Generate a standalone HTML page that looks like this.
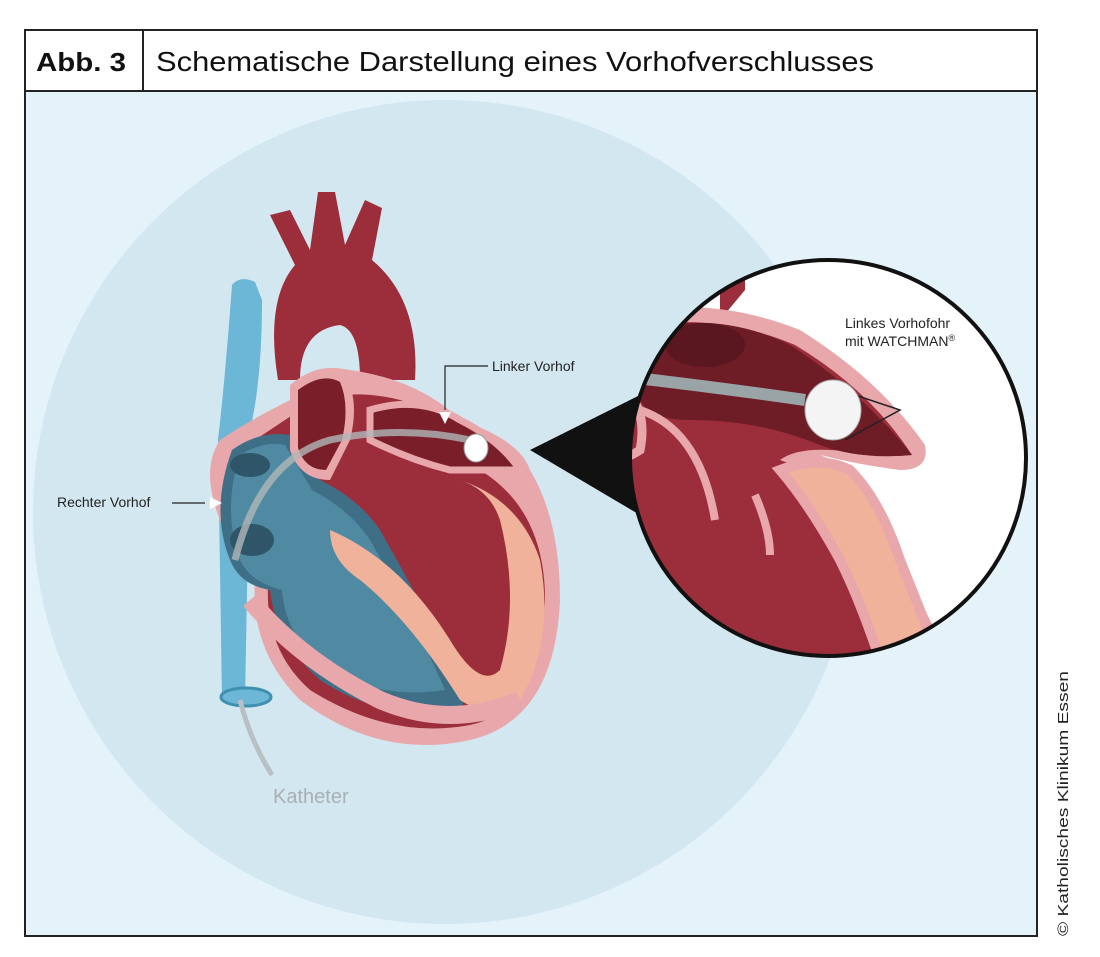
<!DOCTYPE html>
<html><head><meta charset="utf-8"><style>
html,body{margin:0;padding:0;background:#fff;}
body{width:1100px;height:957px;position:relative;overflow:hidden;font-family:"Liberation Sans",sans-serif;}
</style></head><body>
<svg width="1100" height="957" viewBox="0 0 1100 957" xmlns="http://www.w3.org/2000/svg" style="position:absolute;left:0;top:0">
<defs>
<clipPath id="pane"><rect x="25" y="91" width="1012" height="845"/></clipPath>
<clipPath id="zc"><circle cx="828" cy="458" r="198"/></clipPath>
</defs>
<rect x="25" y="91" width="1012" height="845" fill="#e4f2fa"/>
<g clip-path="url(#pane)">
<circle cx="445" cy="512" r="412" fill="#d3e7f1"/>
</g>
<!-- vena cava -->
<path d="M232 285 Q240 275 255 282 L262 300 Q262 380 250 430 L245 700 L222 700 L218 440 Q225 380 232 285Z" fill="#6cb6d6"/>
<ellipse cx="246" cy="697" rx="25" ry="9" fill="#6cb6d6" stroke="#3f8fb0" stroke-width="3"/>
<path d="M240 700 Q250 740 272 775" stroke="#b8c0c4" stroke-width="5" fill="none"/>
<!-- aorta / arch -->
<path d="M270 215 L290 210 L310 250 L318 192 L335 192 L345 245 L365 200 L382 208 L372 260 Q420 300 415 380 L360 380 Q360 330 340 325 Q300 330 300 380 L278 380 Q265 300 295 265 Z" fill="#9c2d3b"/>
<!-- main heart body -->
<path d="M290 400 Q300 360 350 370 Q420 380 460 420 Q520 440 530 470 Q560 520 560 600 Q555 720 470 740 Q380 760 300 700 Q250 650 255 580 Q230 560 220 520 Q200 470 220 440 Q250 420 290 400Z" fill="#e8a7ab"/>
<path d="M300 410 Q340 385 400 400 Q450 415 470 440 L515 460 Q500 475 480 470 Q545 510 545 600 Q540 710 470 725 Q390 740 310 690 Q265 650 268 585 Q240 560 232 520 Q225 470 240 450 Q270 430 300 410Z" fill="#9c2d3b"/>
<!-- right atrium/ventricle blue -->
<path d="M232 450 Q260 430 290 435 L320 480 Q360 500 380 530 Q420 600 460 680 Q470 705 455 712 Q380 720 320 680 Q275 640 270 590 Q240 585 230 560 Q210 510 232 450Z" fill="#3f6f86"/>
<path d="M240 455 Q265 440 285 445 L312 490 Q350 510 370 540 Q410 610 445 690 Q380 700 325 668 Q285 635 282 590 Q250 582 240 560 Q222 510 240 455Z" fill="#4f8aa2"/>
<ellipse cx="252" cy="540" rx="22" ry="16" fill="#2e5568"/>
<ellipse cx="250" cy="465" rx="20" ry="12" fill="#2e5568"/>
<!-- septum/left ventricle pink wall -->
<path d="M330 530 Q400 560 450 640 Q480 690 500 670 Q520 600 500 520 Q490 490 460 480 Q520 500 540 560 Q555 640 520 700 Q490 720 460 700 Q410 620 360 580 Q330 560 330 530Z" fill="#f0b29a"/>
<path d="M250 600 Q300 660 380 700 Q450 730 520 700" stroke="#e8a7ab" stroke-width="18" fill="none"/>
<!-- pulmonary -->
<path d="M290 385 Q320 360 345 375 Q360 400 350 440 L330 480 Q300 480 290 450Z" fill="#e8a7ab"/>
<path d="M298 390 Q322 372 340 382 Q350 405 342 440 L326 470 Q305 470 298 448Z" fill="#7a1f2a"/>
<!-- left atrium -->
<path d="M370 410 Q420 395 460 420 Q500 440 520 470 Q480 470 450 470 Q410 460 370 440Z" fill="#7a1f2a" stroke="#e8a7ab" stroke-width="7"/>
<!-- catheter in heart -->
<path d="M235 560 Q260 460 330 440 Q400 425 470 440" stroke="#b0b6b8" stroke-opacity="0.8" stroke-width="7" fill="none"/>
<ellipse cx="476" cy="448" rx="12" ry="14" fill="#fff" stroke="#999" stroke-width="1"/>
<!-- zoom triangle -->
<polygon points="530,450 640,395 640,515" fill="#111"/>
<!-- zoom circle -->
<circle cx="828" cy="458" r="198" fill="#fff"/>
<g clip-path="url(#zc)">
<path d="M720 240 L745 240 L745 290 L720 320Z" fill="#9c2d3b"/>
<path d="M600 320 Q700 290 800 330 Q880 380 925 445 Q930 470 900 470 Q860 465 820 455 Q860 470 880 520 Q920 600 950 660 L600 660Z" fill="#e8a7ab"/>
<path d="M600 335 Q700 305 795 345 Q870 390 912 455 Q880 458 850 452 Q800 445 780 460 Q840 480 870 540 Q900 600 930 660 L600 660Z" fill="#9c2d3b"/>
<path d="M640 330 Q720 310 790 345 Q860 390 912 455 Q860 460 820 445 Q760 420 690 420 Q650 420 640 400Z" fill="#6e1c26"/>
<ellipse cx="705" cy="345" rx="40" ry="22" fill="#5a1720"/>
<path d="M780 470 Q820 455 850 470 Q880 500 900 560 Q920 610 940 660 L880 660 Q860 600 840 560 Q810 505 780 470Z" fill="#f0b29a" stroke="#e8a7ab" stroke-width="10"/>
<path d="M610 380 Q650 400 640 450 Q625 460 610 460" stroke="#e8a7ab" stroke-width="9" fill="none"/>
<path d="M640 410 Q700 430 715 520" stroke="#e8a7ab" stroke-width="8" fill="none"/>
<path d="M755 495 Q770 530 770 555" stroke="#e8a7ab" stroke-width="8" fill="none"/>
<path d="M610 375 Q700 385 805 400" stroke="#9aa3a6" stroke-width="12" fill="none"/>
<path d="M840 390 L900 410 L845 440" stroke="#222" stroke-width="1.5" fill="none"/>
<ellipse cx="833" cy="410" rx="28" ry="30" fill="#f4f4f4" stroke="#aaa"/>
</g>
<circle cx="828" cy="458" r="198" fill="none" stroke="#111" stroke-width="4"/>
<!-- labels -->
<text x="57" y="507" font-size="14" fill="#222">Rechter Vorhof</text>
<path d="M172 503 L205 503" stroke="#222" stroke-width="1.2" fill="none"/>
<polygon points="222,503 210,497 210,509" fill="#fff"/>
<text x="492" y="371" font-size="14" fill="#222">Linker Vorhof</text>
<path d="M488 366 L445 366 L445 410" stroke="#222" stroke-width="1.2" fill="none"/>
<polygon points="445,424 439,412 451,412" fill="#fff"/>
<text x="845" y="328" font-size="14" fill="#222">Linkes Vorhofohr</text>
<text x="845" y="346" font-size="14" fill="#222">mit WATCHMAN<tspan font-size="9" dy="-5">®</tspan></text>
<text x="273" y="803" font-size="20" fill="#a9b0b3">Katheter</text>
<!-- header -->
<rect x="25" y="30" width="1012" height="906" fill="none" stroke="#222" stroke-width="2"/>
<line x1="25" y1="91" x2="1037" y2="91" stroke="#222" stroke-width="2"/>
<line x1="143" y1="30" x2="143" y2="91" stroke="#222" stroke-width="2"/>
<text x="36" y="71" font-size="26" font-weight="bold" fill="#111" textLength="90" lengthAdjust="spacingAndGlyphs">Abb. 3</text>
<text x="156" y="71" font-size="28" fill="#111" textLength="718" lengthAdjust="spacingAndGlyphs">Schematische Darstellung eines Vorhofverschlusses</text>
<text transform="translate(1068,936) rotate(-90)" font-size="15" fill="#222" textLength="265" lengthAdjust="spacingAndGlyphs">© Katholisches Klinikum Essen</text>
</svg>
</body></html>
